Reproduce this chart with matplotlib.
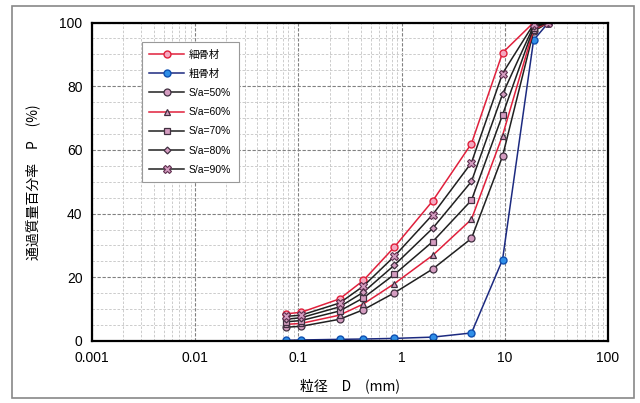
import matplotlib
matplotlib.use("Agg")
import matplotlib.pyplot as plt
from matplotlib.patches import Rectangle
from matplotlib.ticker import FixedLocator, LogLocator, NullFormatter, FuncFormatter

plt.rcParams['font.family'] = ['Liberation Sans', 'Noto Sans CJK JP', 'DejaVu Sans']

# sieve sizes (mm) and passing percentages
sieve = [0.075, 0.106, 0.25, 0.425, 0.85, 2, 4.75, 9.5, 19, 26.5]
fine = [8.5, 9.0, 13.2, 19.0, 29.5, 44.0, 62.0, 90.5, 100, 100]
coarse = [0.2, 0.3, 0.5, 0.6, 0.8, 1.2, 2.5, 25.5, 94.5, 100]
sa50 = [4.3, 4.6, 6.8, 9.8, 15.1, 22.6, 32.2, 58.0, 97.2, 100]
sa60 = [5.2, 5.5, 8.1, 11.6, 18.0, 26.9, 38.2, 64.5, 97.8, 100]
sa70 = [6.0, 6.4, 9.4, 13.5, 20.9, 31.2, 44.2, 71.0, 98.4, 100]
sa80 = [6.8, 7.3, 10.7, 15.3, 23.8, 35.4, 50.1, 77.5, 98.9, 100]
sa90 = [7.7, 8.1, 11.9, 17.2, 26.6, 39.7, 56.0, 84.0, 99.5, 100]

labels = ["細骨材", "粗骨材", "S/a=50%", "S/a=60%", "S/a=70%", "S/a=80%", "S/a=90%"]

fig = plt.figure(figsize=(6.4, 4.03), dpi=100)
ax = fig.add_axes([0.144, 0.154, 0.806, 0.790])

mfill = "#d49cc0"
ax.plot(sieve, fine, color="#e0203c", lw=1.1, marker="o", ms=5,
        mfc="#f4a8c0", mec="#e0203c", mew=1.0, label=labels[0])
ax.plot(sieve, coarse, color="#1c2a80", lw=1.1, marker="o", ms=5,
        mfc="#2f8fe8", mec="#1050b0", mew=1.0, label=labels[1])
ax.plot(sieve, sa50, color="#202020", lw=1.1, marker="o", ms=5,
        mfc=mfill, mec="#403040", mew=0.9, label=labels[2])
ax.plot(sieve, sa60, color="#e0203c", lw=1.1, marker="^", ms=5,
        mfc=mfill, mec="#403040", mew=0.9, label=labels[3])
ax.plot(sieve, sa70, color="#202020", lw=1.1, marker="s", ms=5,
        mfc=mfill, mec="#403040", mew=0.9, label=labels[4])
ax.plot(sieve, sa80, color="#202020", lw=1.1, marker="D", ms=3.5,
        mfc=mfill, mec="#403040", mew=0.9, label=labels[5])
ax.plot(sieve, sa90, color="#202020", lw=1.1, marker="X", ms=6,
        mfc=mfill, mec="#603050", mew=0.8, label=labels[6])

ax.set_xscale("log")
ax.set_xlim(0.001, 100)
ax.set_ylim(0, 100)
ax.xaxis.set_major_locator(FixedLocator([0.001, 0.01, 0.1, 1, 10, 100]))
ax.xaxis.set_major_formatter(FuncFormatter(lambda v, p: "%g" % v))
ax.xaxis.set_minor_locator(LogLocator(base=10, subs=range(2, 10), numticks=20))
ax.xaxis.set_minor_formatter(NullFormatter())
ax.set_yticks(range(0, 101, 20))
ax.set_yticks(range(0, 101, 5), minor=True)

ax.grid(which="major", color="#808080", lw=0.8, ls=(0, (3, 1.5)))
ax.grid(which="minor", color="#c4c4c4", lw=0.6, ls=(0, (3, 2)))
ax.set_axisbelow(True)
ax.tick_params(which="both", length=0, labelsize=10, pad=7)
for s in ax.spines.values():
    s.set_linewidth(1.6)
    s.set_color("black")

ax.set_xlabel("粒径　D　(mm)", fontsize=10, labelpad=10,
              family=['Noto Sans CJK JP', 'DejaVu Sans'])
ax.set_ylabel("通過質量百分率　P　(%)", fontsize=10, labelpad=14,
              family=['Noto Sans CJK JP', 'DejaVu Sans'])

leg = ax.legend(loc="upper left", bbox_to_anchor=(0.214, 0.908),
                bbox_transform=fig.transFigure, frameon=True,
                fancybox=False, edgecolor="#999999", framealpha=1,
                labelspacing=0.88, handlelength=3.3, handletextpad=0.5,
                borderpad=0.7,
                prop={'family': ['Liberation Sans', 'Noto Sans CJK JP'], 'size': 7.5})
leg.get_frame().set_linewidth(0.8)

fig.patches.append(Rectangle((12 / 640, 5 / 403), 622 / 640, 392 / 403,
                             transform=fig.transFigure, fill=False,
                             edgecolor="#888888", lw=1.2))

fig.savefig("out.png", dpi=100)
